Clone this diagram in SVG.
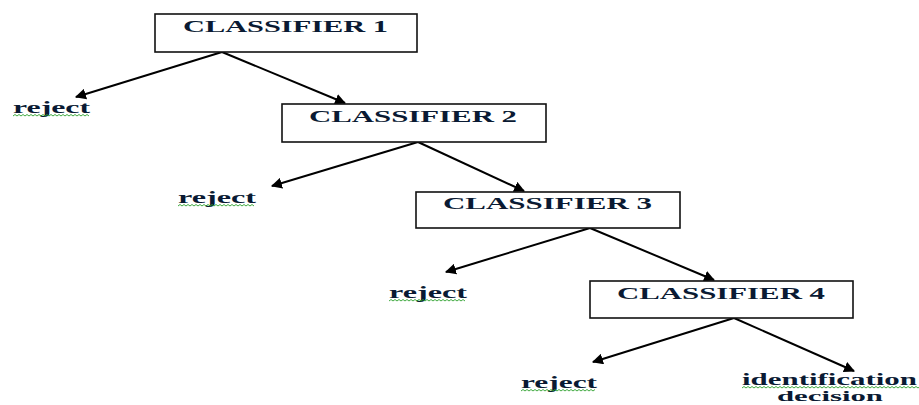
<svg xmlns="http://www.w3.org/2000/svg" width="919" height="405" viewBox="0 0 919 405">
<defs>
<style>
.box{fill:#fff;stroke:#111;stroke-width:1.6}
.t{font-family:"Liberation Serif","Times New Roman",serif;font-weight:bold;fill:#0a1a33}
.h{font-size:17px}
.l{font-size:17px}
.s{font-size:15px}
.c{stroke:#000;stroke-width:2;fill:none;marker-end:url(#ah)}
.sq{stroke:#2aa02a;stroke-width:0.9;fill:none}
</style>
<marker id="ah" viewBox="0 0 10 10" refX="9" refY="5" markerWidth="5.5" markerHeight="5.5" orient="auto" markerUnits="strokeWidth">
<path d="M0,0 L10,5 L0,10 z" fill="#000"/>
</marker>
</defs>
<rect width="919" height="405" fill="#fff"/>
<g id="connectors">
<line class="c" x1="222" y1="52" x2="76" y2="97"/>
<line class="c" x1="222" y1="52" x2="345" y2="103"/>
<line class="c" x1="418" y1="142" x2="272" y2="186"/>
<line class="c" x1="418" y1="142" x2="524" y2="191"/>
<line class="c" x1="590" y1="228" x2="446" y2="272"/>
<line class="c" x1="590" y1="228" x2="714" y2="280"/>
<line class="c" x1="734" y1="318" x2="593" y2="362"/>
<line class="c" x1="734" y1="318" x2="854" y2="371"/>
</g>
<g id="classifier1">
<rect class="box" x="155" y="14" width="262" height="38"/>
<text class="t h" x="183" y="32" textLength="205" lengthAdjust="spacingAndGlyphs">CLASSIFIER 1</text>
</g>
<g id="classifier2">
<rect class="box" x="282" y="104" width="264" height="38"/>
<text class="t h" x="309" y="122" textLength="208" lengthAdjust="spacingAndGlyphs">CLASSIFIER 2</text>
</g>
<g id="classifier3">
<rect class="box" x="416" y="192" width="264" height="36"/>
<text class="t h" x="443" y="209" textLength="209" lengthAdjust="spacingAndGlyphs">CLASSIFIER 3</text>
</g>
<g id="classifier4">
<rect class="box" x="590" y="281" width="263" height="37"/>
<text class="t h" x="617" y="299" textLength="208" lengthAdjust="spacingAndGlyphs">CLASSIFIER 4</text>
</g>
<g id="reject1">
<text class="t l" x="13" y="113" textLength="77" lengthAdjust="spacingAndGlyphs">reject</text>
<path class="sq" d="M13,116 l2,-1.5 l2,1.5 l2,-1.5 l2,1.5 l2,-1.5 l2,1.5 l2,-1.5 l2,1.5 l2,-1.5 l2,1.5 l2,-1.5 l2,1.5 l2,-1.5 l2,1.5 l2,-1.5 l2,1.5 l2,-1.5 l2,1.5 l2,-1.5 l2,1.5 l2,-1.5 l2,1.5 l2,-1.5 l2,1.5 l2,-1.5 l2,1.5 l2,-1.5 l2,1.5 l2,-1.5 l2,1.5 l2,-1.5 l2,1.5 l2,-1.5 l2,1.5 l2,-1.5 l2,1.5 l2,-1.5 l2,1.5"/>
</g>
<g id="reject2">
<text class="t l" x="178" y="203" textLength="78" lengthAdjust="spacingAndGlyphs">reject</text>
<path class="sq" d="M178,206 l2,-1.5 l2,1.5 l2,-1.5 l2,1.5 l2,-1.5 l2,1.5 l2,-1.5 l2,1.5 l2,-1.5 l2,1.5 l2,-1.5 l2,1.5 l2,-1.5 l2,1.5 l2,-1.5 l2,1.5 l2,-1.5 l2,1.5 l2,-1.5 l2,1.5 l2,-1.5 l2,1.5 l2,-1.5 l2,1.5 l2,-1.5 l2,1.5 l2,-1.5 l2,1.5 l2,-1.5 l2,1.5 l2,-1.5 l2,1.5 l2,-1.5 l2,1.5 l2,-1.5 l2,1.5 l2,-1.5 l2,1.5"/>
</g>
<g id="reject3">
<text class="t l" x="389" y="298" textLength="78" lengthAdjust="spacingAndGlyphs">reject</text>
<path class="sq" d="M389,301 l2,-1.5 l2,1.5 l2,-1.5 l2,1.5 l2,-1.5 l2,1.5 l2,-1.5 l2,1.5 l2,-1.5 l2,1.5 l2,-1.5 l2,1.5 l2,-1.5 l2,1.5 l2,-1.5 l2,1.5 l2,-1.5 l2,1.5 l2,-1.5 l2,1.5 l2,-1.5 l2,1.5 l2,-1.5 l2,1.5 l2,-1.5 l2,1.5 l2,-1.5 l2,1.5 l2,-1.5 l2,1.5 l2,-1.5 l2,1.5 l2,-1.5 l2,1.5 l2,-1.5 l2,1.5 l2,-1.5 l2,1.5"/>
</g>
<g id="reject4">
<text class="t l" x="521" y="388" textLength="76" lengthAdjust="spacingAndGlyphs">reject</text>
<path class="sq" d="M521,391 l2,-1.5 l2,1.5 l2,-1.5 l2,1.5 l2,-1.5 l2,1.5 l2,-1.5 l2,1.5 l2,-1.5 l2,1.5 l2,-1.5 l2,1.5 l2,-1.5 l2,1.5 l2,-1.5 l2,1.5 l2,-1.5 l2,1.5 l2,-1.5 l2,1.5 l2,-1.5 l2,1.5 l2,-1.5 l2,1.5 l2,-1.5 l2,1.5 l2,-1.5 l2,1.5 l2,-1.5 l2,1.5 l2,-1.5 l2,1.5 l2,-1.5 l2,1.5 l2,-1.5 l2,1.5 l2,-1.5"/>
</g>
<g id="decision">
<text class="t l" x="742" y="385" textLength="175" lengthAdjust="spacingAndGlyphs">identification</text>
<path class="sq" d="M742,388 l2,-1.5 l2,1.5 l2,-1.5 l2,1.5 l2,-1.5 l2,1.5 l2,-1.5 l2,1.5 l2,-1.5 l2,1.5 l2,-1.5 l2,1.5 l2,-1.5 l2,1.5 l2,-1.5 l2,1.5 l2,-1.5 l2,1.5 l2,-1.5 l2,1.5 l2,-1.5 l2,1.5 l2,-1.5 l2,1.5 l2,-1.5 l2,1.5 l2,-1.5 l2,1.5 l2,-1.5 l2,1.5 l2,-1.5 l2,1.5 l2,-1.5 l2,1.5 l2,-1.5 l2,1.5 l2,-1.5 l2,1.5 l2,-1.5 l2,1.5 l2,-1.5 l2,1.5 l2,-1.5 l2,1.5 l2,-1.5 l2,1.5 l2,-1.5 l2,1.5 l2,-1.5 l2,1.5 l2,-1.5 l2,1.5 l2,-1.5 l2,1.5 l2,-1.5 l2,1.5 l2,-1.5 l2,1.5 l2,-1.5 l2,1.5 l2,-1.5 l2,1.5 l2,-1.5 l2,1.5 l2,-1.5 l2,1.5 l2,-1.5 l2,1.5 l2,-1.5 l2,1.5 l2,-1.5 l2,1.5 l2,-1.5 l2,1.5 l2,-1.5 l2,1.5 l2,-1.5 l2,1.5 l2,-1.5 l2,1.5 l2,-1.5 l2,1.5 l2,-1.5 l2,1.5 l2,-1.5 l2,1.5 l2,-1.5 l2,1.5 l2,-1.5 l2,1.5"/>
<text class="t s" x="777" y="401" textLength="106" lengthAdjust="spacingAndGlyphs">decision</text>
</g>
</svg>
